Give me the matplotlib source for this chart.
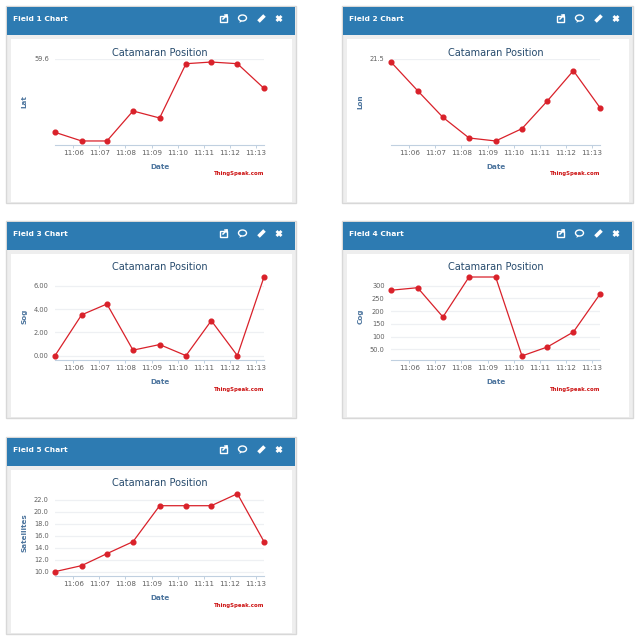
import matplotlib
matplotlib.use("Agg")
import matplotlib.pyplot as plt
from matplotlib.patches import Rectangle, Ellipse, Polygon

# Sample times, minutes after 11:00
times = [5.30, 6.32, 7.29, 8.29, 9.31, 10.32, 11.29, 12.29, 13.31]
minute_ticks = [6, 7, 8, 9, 10, 11, 12, 13]
minute_labels = ["11:06", "11:07", "11:08", "11:09", "11:10", "11:11", "11:12", "11:13"]

# Field values
lat = [59.5779, 59.5753, 59.5753, 59.5843, 59.5822, 59.5985, 59.5990, 59.5985, 59.5911]
lon = [21.4990, 21.4904, 21.4824, 21.4762, 21.4753, 21.4790, 21.4873, 21.4964, 21.4853]
sog = [0.0, 3.5, 4.43, 0.47, 0.95, 0.0, 3.0, 0.0, 6.75]
cog = [282, 292, 177, 334, 334, 24, 59, 118, 267]
sats = [10, 11, 13, 15, 21, 21, 21, 23, 15]

lat_ticks = [59.6]
lat_labels = ["59.6"]
lon_ticks = [21.5]
lon_labels = ["21.5"]
sog_ticks = [0, 2, 4, 6]
sog_labels = ["0.00", "2.00", "4.00", "6.00"]
cog_ticks = [50, 100, 150, 200, 250, 300]
cog_labels = ["50.0", "100", "150", "200", "250", "300"]
sats_ticks = [10, 12, 14, 16, 18, 20, 22]
sats_labels = ["10.0", "12.0", "14.0", "16.0", "18.0", "20.0", "22.0"]

W, H = 636, 641
BLUE = "#2d7bb2"
NAVY = "#274b6d"
AXIS_BLUE = "#4d759e"
RED = "#d9212a"

# title, y label, values, y limits, ticks, tick labels, panel left, panel top, panel right
panels = [
    ("Field 1 Chart", "Lat", lat, (59.574, 59.6), lat_ticks, lat_labels, 6, 6, 295.5),
    ("Field 2 Chart", "Lon", lon, (21.474, 21.5), lon_ticks, lon_labels, 342, 6, 632.5),
    ("Field 3 Chart", "Sog", sog, (-0.4, 7.03), sog_ticks, sog_labels, 6, 221, 295.5),
    ("Field 4 Chart", "Cog", cog, (6.8, 347), cog_ticks, cog_labels, 342, 221, 632.5),
    ("Field 5 Chart", "Satellites", sats, (9.22, 23.67), sats_ticks, sats_labels, 6, 437, 295.5),
]

fig = plt.figure(figsize=(W / 100, H / 100), dpi=100, facecolor="white")

# pixel-coordinate layer for the dashboard cards
bg = fig.add_axes([0, 0, 1, 1])
bg.set_xlim(0, W)
bg.set_ylim(H, 0)
bg.axis("off")


def draw_icons(ax, right, top):
    cy = top + 12.5
    x0 = right - 72
    # open in new window
    ax.add_patch(Rectangle((x0 - 3.5, cy - 2.5), 6.5, 6, fc="none", ec="white", lw=1))
    ax.plot([x0 - 0.5, x0 + 3.5], [cy + 0.5, cy - 3.5], color="white", lw=1.1)
    ax.plot([x0 + 1.5, x0 + 3.5, x0 + 3.5], [cy - 3.5, cy - 3.5, cy - 1.5], color="white", lw=1.1)
    # comment bubble
    x1 = right - 53
    ax.add_patch(Ellipse((x1, cy - 0.5), 8, 6, fc="none", ec="white", lw=1))
    ax.add_patch(Polygon([(x1 - 2.5, cy + 2), (x1 - 3, cy + 4.5), (x1 - 0.5, cy + 2.5)], fc="white", ec="none"))
    # pencil
    x2 = right - 34
    ax.plot([x2 - 3, x2 + 3], [cy + 3, cy - 3], color="white", lw=2.6, solid_capstyle="butt")
    # close
    x3 = right - 16.5
    ax.plot([x3 - 2.5, x3 + 2.5], [cy - 2.5, cy + 2.5], color="white", lw=2, solid_capstyle="butt")
    ax.plot([x3 - 2.5, x3 + 2.5], [cy + 2.5, cy - 2.5], color="white", lw=2, solid_capstyle="butt")


for name, ylabel, values, ylim, yticks, ylabels, left, top, right in panels:
    bottom = top + 196.5
    bg.add_patch(Rectangle((left, top), right - left, bottom - top, fc="#eeeeee", ec="#d8d8d8", lw=1))
    bg.add_patch(Rectangle((left + 1, top + 1), right - left - 1.5, 28, fc=BLUE, ec="none"))
    bg.add_patch(Rectangle((left + 5, top + 33), right - left - 9, bottom - top - 33.5, fc="white", ec="none"))
    bg.text(left + 7, top + 13, name, color="white", fontsize=5.4, fontweight="bold", va="center")
    draw_icons(bg, right, top)

    # plot area is 209 x 86.6 px inside each card
    px_left = left + 49
    px_top = top + 52.7
    ax = fig.add_axes([px_left / W, 1 - (px_top + 86.6) / H, 209 / W, 86.6 / H])
    ax.patch.set_alpha(0)
    ax.plot(times, values, color=RED, lw=0.9, marker="o", ms=3.4, clip_on=False, zorder=5)
    ax.set_xlim(5.30, 13.31)
    ax.set_ylim(*ylim)
    for side in ["top", "right", "left"]:
        ax.spines[side].set_visible(False)
    ax.spines["bottom"].set_color("#c0d0e0")
    ax.spines["bottom"].set_linewidth(0.8)
    ax.set_xticks(minute_ticks)
    ax.set_xticklabels(minute_labels, fontsize=5.2, color="#606060")
    ax.tick_params(axis="x", length=2.5, width=0.7, color="#c0d0e0", pad=1)
    ax.set_yticks(yticks)
    ax.set_yticklabels(ylabels, fontsize=4.8, color="#606060")
    ax.tick_params(axis="y", length=0, pad=4.5)
    ax.grid(axis="y", color="#eef0f3", lw=0.9)
    ax.set_axisbelow(True)

    bg.text(left + 153.5, top + 46.5, "Catamaran Position", color=NAVY, fontsize=7.0, ha="center", va="center")
    bg.text(left + 154, top + 161, "Date", color=AXIS_BLUE, fontsize=5.2, fontweight="bold", ha="center", va="center")
    bg.text(px_left + 209, top + 168, "ThingSpeak.com", color="#cc1111", fontsize=3.9, fontweight="bold",
            ha="right", va="center")
    bg.text(left + 18.5, px_top + 43, ylabel, color=AXIS_BLUE, fontsize=5.2, fontweight="bold",
            rotation=90, ha="center", va="center")

fig.savefig("out.png", dpi=100)
